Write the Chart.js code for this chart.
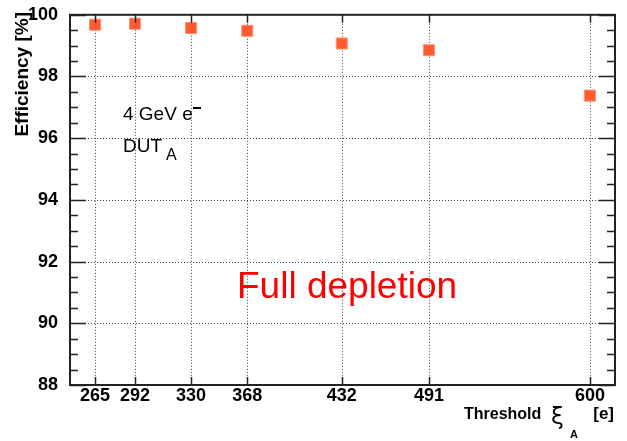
<!DOCTYPE html>
<html>
<head>
<meta charset="utf-8">
<script src="https://cdn.jsdelivr.net/npm/chart.js@4/dist/chart.umd.min.js"></script>
<style>
  html, body { margin: 0; padding: 0; background: #fff; }
  canvas { display: block; }
</style>
</head>
<body>
<canvas id="effChart" width="627" height="441"></canvas>
<script>
// Data
const thresholds = [265, 292, 330, 368, 432, 491, 600];
const efficiency = [99.68, 99.71, 99.57, 99.48, 99.07, 98.85, 97.38];
const xTicks = [265, 292, 330, 368, 432, 491, 600];
const yMajorTicks = [88, 90, 92, 94, 96, 98, 100];
const yMinorStep = 0.5;

const FONT = '"Liberation Sans", Arial, sans-serif';

// ROOT-like frame, ticks, dotted grid and text labels
const rootStyle = {
    id: 'rootStyle',
    beforeDatasetsDraw(chart) {
        const { ctx, chartArea: a, scales } = chart;
        ctx.save();
        ctx.strokeStyle = '#444';
        ctx.lineWidth = 1;
        ctx.setLineDash([1, 2]);
        xTicks.forEach(v => {
            const x = Math.round(scales.x.getPixelForValue(v)) + 0.5;
            ctx.beginPath();
            ctx.moveTo(x, a.top);
            ctx.lineTo(x, a.bottom);
            ctx.stroke();
        });
        yMajorTicks.slice(1, -1).forEach(v => {
            const y = Math.round(scales.y.getPixelForValue(v)) + 0.5;
            ctx.beginPath();
            ctx.moveTo(a.left, y);
            ctx.lineTo(a.right, y);
            ctx.stroke();
        });
        ctx.restore();
    },
    afterDraw(chart) {
        const { ctx, chartArea: a, scales } = chart;
        ctx.save();
        ctx.strokeStyle = '#222';
        ctx.lineWidth = 1.5;
        // tick marks
        ctx.beginPath();
        for (let v = 88; v <= 100.001; v += yMinorStep) {
            const y = Math.round(scales.y.getPixelForValue(v)) + 0.5;
            const len = Math.abs(v % 2) < 1e-6 ? 16 : 8;
            ctx.moveTo(a.left, y); ctx.lineTo(a.left + len, y);
            ctx.moveTo(a.right, y); ctx.lineTo(a.right - len, y);
        }
        xTicks.forEach(v => {
            const x = Math.round(scales.x.getPixelForValue(v)) + 0.5;
            ctx.moveTo(x, a.bottom); ctx.lineTo(x, a.bottom - 8);
            ctx.moveTo(x, a.top); ctx.lineTo(x, a.top + 8);
        });
        ctx.stroke();
        // frame
        ctx.lineWidth = 2;
        ctx.strokeRect(a.left, a.top, a.right - a.left, a.bottom - a.top);

        // y axis title
        ctx.fillStyle = '#000';
        ctx.save();
        ctx.translate(28, 12);
        ctx.rotate(-Math.PI / 2);
        ctx.textAlign = 'right';
        ctx.textBaseline = 'alphabetic';
        ctx.font = 'bold 19px ' + FONT;
        ctx.fillText('Efficiency [%]', 0, 0);
        ctx.restore();

        // x axis title
        ctx.textAlign = 'left';
        ctx.textBaseline = 'alphabetic';
        ctx.font = 'bold 16px ' + FONT;
        ctx.fillText('Threshold', 464, 419);
        ctx.font = '23px "DejaVu Sans", ' + FONT;
        ctx.fillText('\u03BE', 551, 424);
        ctx.font = 'bold 11px ' + FONT;
        ctx.fillText('A', 570, 438);
        ctx.font = 'bold 17px ' + FONT;
        ctx.textAlign = 'right';
        ctx.fillText('[e]', 614, 419);

        // annotations
        ctx.textAlign = 'left';
        ctx.font = '19px ' + FONT;
        ctx.fillText('4 GeV e', 123, 120);
        ctx.fillRect(193, 107, 8, 2);
        ctx.fillText('DUT', 123, 152);
        ctx.font = '16px ' + FONT;
        ctx.fillText('A', 166, 160);

        ctx.fillStyle = '#ff0000';
        ctx.font = '37px ' + FONT;
        ctx.fillText('Full depletion', 237, 298);
        ctx.restore();
    }
};

const ctx = document.getElementById('effChart').getContext('2d');
new Chart(ctx, {
    type: 'scatter',
    data: {
        datasets: [{
            data: thresholds.map((t, i) => ({ x: t, y: efficiency[i] })),
            pointStyle: 'rect',
            pointRadius: 7.8,
            backgroundColor: '#ff5a30',
            borderColor: '#ff9070',
            borderWidth: 1
        }]
    },
    options: {
        responsive: false,
        animation: false,
        layout: { padding: { left: 0, top: 14, right: 12, bottom: 0 } },
        plugins: {
            legend: { display: false },
            tooltip: { enabled: false }
        },
        scales: {
            x: {
                type: 'linear',
                min: 248,
                max: 617,
                grid: { display: false },
                border: { display: false },
                afterBuildTicks: (scale) => {
                    scale.ticks = xTicks.map(v => ({ value: v }));
                },
                afterFit: (scale) => { scale.height = 56; },
                ticks: {
                    autoSkip: false,
                    maxRotation: 0,
                    padding: -8,
                    color: '#000',
                    font: { family: FONT, size: 18, weight: 'bold' },
                    callback: (v) => String(v)
                }
            },
            y: {
                min: 88,
                max: 100,
                grid: { display: false },
                border: { display: false },
                afterBuildTicks: (scale) => {
                    scale.ticks = yMajorTicks.map(v => ({ value: v }));
                },
                afterFit: (scale) => { scale.width = 70; },
                ticks: {
                    padding: 4,
                    color: '#000',
                    font: { family: FONT, size: 18, weight: 'bold' },
                    callback: (v) => String(v)
                }
            }
        }
    },
    plugins: [rootStyle]
});
</script>
</body>
</html>
